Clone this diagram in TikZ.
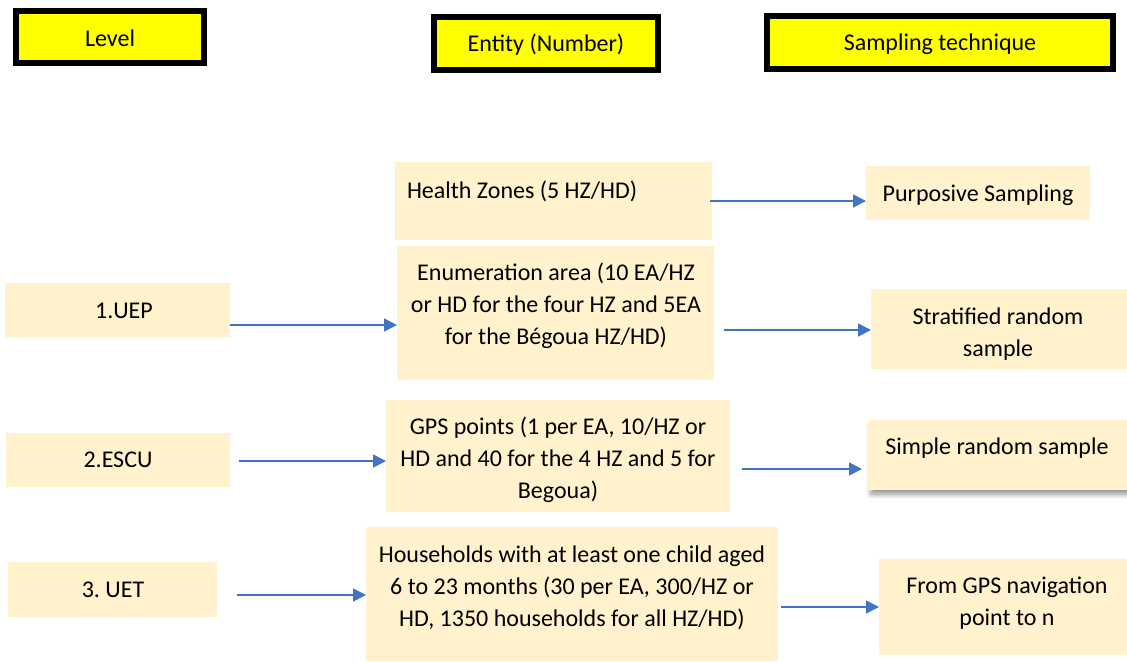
\documentclass[tikz,border=0pt]{standalone}
\usepackage{fontspec}
\setmainfont{Carlito}
\usetikzlibrary{arrows.meta,shadows.blur}
\definecolor{boxfill}{HTML}{FFF2CC}
\definecolor{arrowblue}{HTML}{4472C4}
\definecolor{headfill}{HTML}{FFFF00}
\begin{document}
\begin{tikzpicture}[x=1pt,y=-1pt,
  every node/.style={inner sep=0pt, outer sep=0pt},
  headbox/.style={draw=black, line width=6pt, fill=headfill},
  cellbox/.style={fill=boxfill},
  txt/.style={font=\fontsize{24}{32}\selectfont, align=center},
  flow/.style={draw=arrowblue, line width=1.6pt, -{Triangle[length=13pt,width=13pt]}}]
\useasboundingbox (0,0) rectangle (1127,662);

% column headings
\node[headbox, minimum width=188, minimum height=52] (hlevel) at (110,37) {};
\node[headbox, minimum width=224, minimum height=53] (hentity) at (546,43.5) {};
\node[headbox, minimum width=346, minimum height=53] (hsamp) at (940,42) {};
\node[txt] at (110,38) {Level};
\node[txt] at (546,45) {Entity (Number)};
\node[txt] at (940,44) {Sampling technique};

% levels
\node[cellbox, minimum width=225, minimum height=54] (uep) at (117.5,310) {};
\node[cellbox, minimum width=224, minimum height=54] (escu) at (118,460) {};
\node[cellbox, minimum width=209, minimum height=55] (uet) at (112.5,589.5) {};
\node[txt] at (124,311) {1.UEP};
\node[txt] at (118,460) {2.ESCU};
\node[txt] at (113,589.5) {3.~UET};

% entities
\node[cellbox, minimum width=317, minimum height=78] (hz) at (553.5,201) {};
\node[cellbox, minimum width=317, minimum height=134] (ea) at (555.5,313) {};
\node[cellbox, minimum width=344, minimum height=112] (gps) at (558,456) {};
\node[cellbox, minimum width=412, minimum height=134] (hh) at (572,594) {};
\node[txt, anchor=west] at (407,191) {Health Zones (5 HZ/HD)};
\node[txt] at (556,306) {Enumeration area (10 EA/HZ\\or HD for the four HZ and 5EA\\for the Bégoua HZ/HD)};
\node[txt] at (558,460) {GPS points (1 per EA, 10/HZ or\\HD and 40 for the 4 HZ and 5 for\\Begoua)};
\node[txt] at (572,588) {Households with at least one child aged\\6 to 23 months (30 per EA, 300/HZ or\\HD, 1350 households for all HZ/HD)};

% sampling techniques
\node[cellbox, minimum width=224, minimum height=54] (purp) at (978,193) {};
\node[cellbox, minimum width=256, minimum height=80] (strat) at (999,329) {};
\node[cellbox, minimum width=259, minimum height=70,
  blur shadow={shadow xshift=3pt, shadow yshift=-4pt, shadow blur steps=10, shadow blur radius=5pt, shadow opacity=45}] (simple) at (997.5,455) {};
\node[cellbox, minimum width=248, minimum height=96] (nav) at (1003,607) {};
\node[txt] at (978,195) {Purposive Sampling};
\node[txt] at (998,334) {Stratified random\\sample};
\node[txt] at (997,448) {Simple random sample};
\node[txt] at (1007,603) {From GPS navigation\\point to n};

% connectors
\coordinate (s1) at (710,201);
\coordinate (s2) at (230,325);
\coordinate (s3) at (724,330);
\coordinate (s4) at (239,461);
\coordinate (s5) at (742,469);
\coordinate (s6) at (237,595);
\coordinate (s7) at (781,607);
\draw[flow] (s1) -- (purp.west |- s1);
\draw[flow] (s2) -- (ea.west |- s2);
\draw[flow] (s3) -- (strat.west |- s3);
\draw[flow] (s4) -- (gps.west |- s4);
\draw[flow] (s5) -- ([xshift=-6pt]simple.west |- s5);
\draw[flow] (s6) -- (hh.west |- s6);
\draw[flow] (s7) -- (nav.west |- s7);
\end{tikzpicture}
\end{document}
